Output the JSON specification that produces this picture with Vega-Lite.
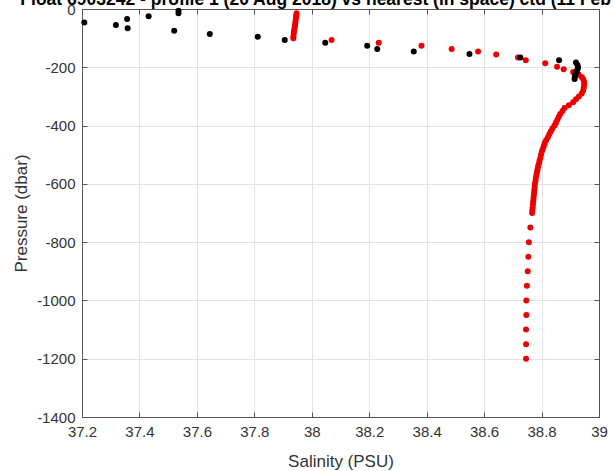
{
  "$schema": "https://vega.github.io/schema/vega-lite/v6.json",
  "autosize": {"type": "none"},
  "width": 517,
  "height": 408,
  "padding": {"left": 82, "top": 9, "right": 16, "bottom": 54},
  "background": "white",
  "title": {
    "text": "Float 6903242 - profile 1 (20 Aug 2018) vs nearest (in space) ctd (11 Feb 2019)",
    "font": "Liberation Sans",
    "fontSize": 17.5,
    "fontWeight": "bold",
    "color": "#000000",
    "anchor": "middle",
    "baseline": "alphabetic",
    "offset": 0,
    "dy": 20
  },
  "config": {
    "view": {"stroke": "#555555", "strokeWidth": 1},
    "axis": {
      "labelFont": "Liberation Sans",
      "titleFont": "Liberation Sans",
      "labelFontSize": 15,
      "titleFontSize": 17,
      "titleFontWeight": "normal",
      "labelColor": "#333333",
      "titleColor": "#333333",
      "domainColor": "#555555",
      "tickColor": "#555555",
      "gridColor": "#e3e3e3",
      "labelFlush": false
    }
  },
  "datasets": {
    "profiles": [
      {"source": "float", "salinity": 37.947, "pressure": -15},
      {"source": "float", "salinity": 37.946, "pressure": -22},
      {"source": "float", "salinity": 37.945, "pressure": -30},
      {"source": "float", "salinity": 37.944, "pressure": -38},
      {"source": "float", "salinity": 37.943, "pressure": -46},
      {"source": "float", "salinity": 37.942, "pressure": -54},
      {"source": "float", "salinity": 37.941, "pressure": -62},
      {"source": "float", "salinity": 37.939, "pressure": -70},
      {"source": "float", "salinity": 37.938, "pressure": -78},
      {"source": "float", "salinity": 37.937, "pressure": -86},
      {"source": "float", "salinity": 37.936, "pressure": -94},
      {"source": "float", "salinity": 37.936, "pressure": -100},
      {"source": "float", "salinity": 38.069, "pressure": -106},
      {"source": "float", "salinity": 38.233, "pressure": -116},
      {"source": "float", "salinity": 38.382, "pressure": -126},
      {"source": "float", "salinity": 38.487, "pressure": -137},
      {"source": "float", "salinity": 38.579, "pressure": -146},
      {"source": "float", "salinity": 38.642, "pressure": -156},
      {"source": "float", "salinity": 38.718, "pressure": -166},
      {"source": "float", "salinity": 38.745, "pressure": -176},
      {"source": "float", "salinity": 38.813, "pressure": -186},
      {"source": "float", "salinity": 38.854, "pressure": -198},
      {"source": "float", "salinity": 38.877, "pressure": -207},
      {"source": "float", "salinity": 38.910, "pressure": -216},
      {"source": "float", "salinity": 38.930, "pressure": -226},
      {"source": "float", "salinity": 38.940, "pressure": -233},
      {"source": "float", "salinity": 38.945, "pressure": -240},
      {"source": "float", "salinity": 38.948, "pressure": -250},
      {"source": "float", "salinity": 38.948, "pressure": -260},
      {"source": "float", "salinity": 38.947, "pressure": -270},
      {"source": "float", "salinity": 38.945, "pressure": -280},
      {"source": "float", "salinity": 38.940, "pressure": -290},
      {"source": "float", "salinity": 38.930, "pressure": -300},
      {"source": "float", "salinity": 38.920, "pressure": -310},
      {"source": "float", "salinity": 38.910, "pressure": -320},
      {"source": "float", "salinity": 38.895, "pressure": -330},
      {"source": "float", "salinity": 38.880, "pressure": -340},
      {"source": "float", "salinity": 38.873, "pressure": -350},
      {"source": "float", "salinity": 38.865, "pressure": -360},
      {"source": "float", "salinity": 38.860, "pressure": -370},
      {"source": "float", "salinity": 38.855, "pressure": -380},
      {"source": "float", "salinity": 38.850, "pressure": -390},
      {"source": "float", "salinity": 38.845, "pressure": -400},
      {"source": "float", "salinity": 38.838, "pressure": -410},
      {"source": "float", "salinity": 38.832, "pressure": -420},
      {"source": "float", "salinity": 38.827, "pressure": -430},
      {"source": "float", "salinity": 38.822, "pressure": -440},
      {"source": "float", "salinity": 38.816, "pressure": -450},
      {"source": "float", "salinity": 38.811, "pressure": -460},
      {"source": "float", "salinity": 38.808, "pressure": -470},
      {"source": "float", "salinity": 38.804, "pressure": -480},
      {"source": "float", "salinity": 38.801, "pressure": -490},
      {"source": "float", "salinity": 38.798, "pressure": -500},
      {"source": "float", "salinity": 38.796, "pressure": -510},
      {"source": "float", "salinity": 38.793, "pressure": -520},
      {"source": "float", "salinity": 38.791, "pressure": -530},
      {"source": "float", "salinity": 38.788, "pressure": -540},
      {"source": "float", "salinity": 38.786, "pressure": -550},
      {"source": "float", "salinity": 38.784, "pressure": -560},
      {"source": "float", "salinity": 38.782, "pressure": -570},
      {"source": "float", "salinity": 38.780, "pressure": -580},
      {"source": "float", "salinity": 38.779, "pressure": -590},
      {"source": "float", "salinity": 38.777, "pressure": -600},
      {"source": "float", "salinity": 38.776, "pressure": -610},
      {"source": "float", "salinity": 38.775, "pressure": -620},
      {"source": "float", "salinity": 38.774, "pressure": -630},
      {"source": "float", "salinity": 38.773, "pressure": -640},
      {"source": "float", "salinity": 38.772, "pressure": -650},
      {"source": "float", "salinity": 38.771, "pressure": -660},
      {"source": "float", "salinity": 38.770, "pressure": -670},
      {"source": "float", "salinity": 38.769, "pressure": -680},
      {"source": "float", "salinity": 38.768, "pressure": -690},
      {"source": "float", "salinity": 38.767, "pressure": -700},
      {"source": "float", "salinity": 38.761, "pressure": -750},
      {"source": "float", "salinity": 38.756, "pressure": -800},
      {"source": "float", "salinity": 38.754, "pressure": -850},
      {"source": "float", "salinity": 38.752, "pressure": -900},
      {"source": "float", "salinity": 38.749, "pressure": -950},
      {"source": "float", "salinity": 38.747, "pressure": -1000},
      {"source": "float", "salinity": 38.747, "pressure": -1050},
      {"source": "float", "salinity": 38.746, "pressure": -1100},
      {"source": "float", "salinity": 38.746, "pressure": -1150},
      {"source": "float", "salinity": 38.746, "pressure": -1200},
      {"source": "ctd", "salinity": 37.208, "pressure": -46},
      {"source": "ctd", "salinity": 37.318, "pressure": -55},
      {"source": "ctd", "salinity": 37.357, "pressure": -34},
      {"source": "ctd", "salinity": 37.359, "pressure": -66},
      {"source": "ctd", "salinity": 37.432, "pressure": -25},
      {"source": "ctd", "salinity": 37.536, "pressure": -6},
      {"source": "ctd", "salinity": 37.536, "pressure": -15},
      {"source": "ctd", "salinity": 37.521, "pressure": -75},
      {"source": "ctd", "salinity": 37.645, "pressure": -86},
      {"source": "ctd", "salinity": 37.812, "pressure": -95},
      {"source": "ctd", "salinity": 37.906, "pressure": -106},
      {"source": "ctd", "salinity": 38.047, "pressure": -116},
      {"source": "ctd", "salinity": 38.193, "pressure": -126},
      {"source": "ctd", "salinity": 38.228, "pressure": -137},
      {"source": "ctd", "salinity": 38.355, "pressure": -146},
      {"source": "ctd", "salinity": 38.549, "pressure": -154},
      {"source": "ctd", "salinity": 38.726, "pressure": -166},
      {"source": "ctd", "salinity": 38.861, "pressure": -176},
      {"source": "ctd", "salinity": 38.920, "pressure": -184},
      {"source": "ctd", "salinity": 38.925, "pressure": -192},
      {"source": "ctd", "salinity": 38.927, "pressure": -200},
      {"source": "ctd", "salinity": 38.925, "pressure": -208},
      {"source": "ctd", "salinity": 38.922, "pressure": -216},
      {"source": "ctd", "salinity": 38.918, "pressure": -224},
      {"source": "ctd", "salinity": 38.916, "pressure": -232},
      {"source": "ctd", "salinity": 38.915, "pressure": -240}
    ]
  },
  "data": {"name": "profiles"},
  "resolve": {"axis": {"x": "independent", "y": "independent"}},
  "layer": [
    {
      "transform": [{"filter": "datum.source === 'float'"}],
      "mark": {"type": "circle", "size": 36, "color": "#ee0000", "opacity": 1},
      "encoding": {
        "x": {
          "field": "salinity", "type": "quantitative",
          "scale": {"domain": [37.2, 39], "nice": false, "zero": false},
          "axis": {
            "orient": "bottom",
            "title": "Salinity (PSU)",
            "values": [37.2, 37.4, 37.6, 37.8, 38, 38.2, 38.4, 38.6, 38.8, 39],
            "labelExpr": "'' + datum.value",
            "tickSize": -5,
            "labelPadding": 12,
            "titlePadding": 14,
            "grid": true
          }
        },
        "y": {
          "field": "pressure", "type": "quantitative",
          "scale": {"domain": [-1400, 0], "nice": false, "zero": false},
          "axis": {
            "orient": "left",
            "title": "Pressure (dbar)",
            "values": [-1400, -1200, -1000, -800, -600, -400, -200, 0],
            "labelExpr": "'' + datum.value",
            "tickSize": -5,
            "labelPadding": 12,
            "titlePadding": 6,
            "grid": true
          }
        }
      }
    },
    {
      "transform": [{"filter": "datum.source === 'ctd'"}],
      "mark": {"type": "circle", "size": 36, "color": "#000000", "opacity": 1},
      "encoding": {
        "x": {
          "field": "salinity", "type": "quantitative",
          "axis": {
            "orient": "top", "title": null, "labels": false, "grid": false,
            "values": [37.2, 37.4, 37.6, 37.8, 38, 38.2, 38.4, 38.6, 38.8, 39],
            "tickSize": -5
          }
        },
        "y": {
          "field": "pressure", "type": "quantitative",
          "axis": {
            "orient": "right", "title": null, "labels": false, "grid": false,
            "values": [-1400, -1200, -1000, -800, -600, -400, -200, 0],
            "tickSize": -5
          }
        }
      }
    }
  ]
}
